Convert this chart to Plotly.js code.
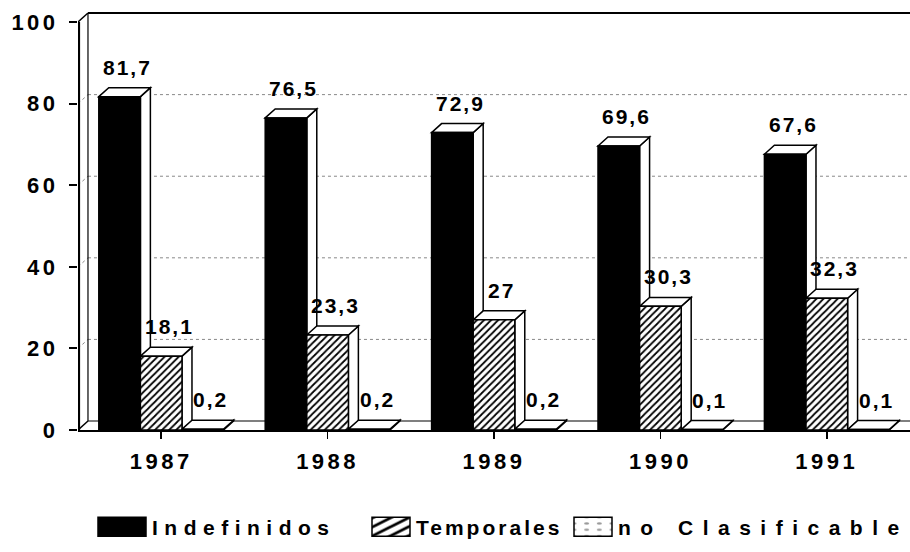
<!DOCTYPE html>
<html>
<head>
<meta charset="utf-8">
<script src="https://cdn.plot.ly/plotly-3.0.1.min.js"></script>
<style>
  html, body { margin: 0; padding: 0; background: #fff; }
  #chart { width: 910px; height: 552px; }
  svg .xtick text, svg .ytick text { letter-spacing: 3.5px; }
  svg .annotation-text { letter-spacing: 2px; }
</style>
</head>
<body>
<div id="chart"></div>
<script>
// ---- data ----
const years = ['1987', '1988', '1989', '1990', '1991'];
const indefinidos = [81.7, 76.5, 72.9, 69.6, 67.6];
const temporales = [18.1, 23.3, 27, 30.3, 32.3];
const noClasificable = [0.2, 0.2, 0.2, 0.1, 0.1];
const seriesNames = ['Indefinidos', 'Temporales', 'no Clasificable'];
const yTicks = [0, 20, 40, 60, 80, 100];

// ---- styling constants ----
const FONT = 'Liberation Sans, Arial, sans-serif';
const W = 0.25;        // bar width in category units (bargap 0.25, 3 bars)
const DX = 0.06;       // 3D depth, x (category units)
const DY = 2.2;        // 3D depth, y (value units)
const X0 = -0.5, X1 = 4.5;
const series = [indefinidos, temporales, noClasificable];

// legend look (pixels): box left, box width, text letter-spacing
const LEG_BOX_LEFT = [98, 372, 574];
const LEG_BOX_W = [48, 38, 38];
const LEG_BOX_H = 19;
const LEG_GAP = 6;
const LEG_LS = [6.5, 3, 9.5];

const fmt = v => String(v).replace('.', ',');

const patterns = [
  { shape: '', fgcolor: '#000', bgcolor: '#000' },
  { shape: '/', fgcolor: '#000', bgcolor: '#fff', size: 5, solidity: 0.35, fillmode: 'replace' },
  { shape: '.', fgcolor: '#999', bgcolor: '#fff', size: 5, solidity: 0.12, fillmode: 'replace' }
];
const colors = ['#000', '#fff', '#fff'];

const data = series.map((vals, s) => ({
  type: 'bar',
  name: seriesNames[s],
  x: years,
  y: vals,
  marker: { color: colors[s], pattern: patterns[s], line: { color: '#000', width: 1.5 } },
  hoverinfo: 'skip'
}));

// ---- decorations: 3D walls, grid ----
const shapes = [];
const line = (x0, y0, x1, y1, w, dash, col) => shapes.push({
  type: 'line', xref: 'x', yref: 'y', x0, y0, x1, y1, layer: 'below',
  line: { color: col || '#000', width: w, dash: dash || 'solid' }
});
yTicks.filter(t => t > 0 && t < 100).forEach(t => {
  line(X0 + DX, t + DY, X1, t + DY, 1, 'dot', '#888');
  line(X0, t, X0 + DX, t + DY, 1, 'dot', '#888');
});
line(X0 + DX, 100 + DY, X1, 100 + DY, 2.2);
line(X0 + 0.006, 0, X0 + 0.006, 100, 2.2);
line(X0 + DX, DY, X0 + DX, 100 + DY, 1.2);
line(X0, 100, X0 + DX, 100 + DY, 1.5);
line(X0, 0, X0 + DX, DY, 1.5);
line(X0 + DX, DY, X1, DY, 1.2);

// ---- 3D faces of each bar (top + side), built from the values ----
years.forEach((yr, k) => {
  series.forEach((vals, s) => {
    const v = vals[k];
    const L = k + (s - 1) * W - W / 2;
    const R = L + W;
    shapes.push({
      type: 'path', xref: 'x', yref: 'y', layer: 'below',
      path: `M${R},0 L${R},${v} L${R + DX},${v + DY} L${R + DX},${DY} Z`,
      fillcolor: '#fff', line: { color: '#000', width: 1.5 }
    });
    shapes.push({
      type: 'path', xref: 'x', yref: 'y', layer: 'below',
      path: `M${L},${v} L${L + DX},${v + DY} L${R + DX},${v + DY} L${R},${v} Z`,
      fillcolor: '#fff', line: { color: '#000', width: 1.5 }
    });
  });
});

// ---- value labels ----
const annotations = [];
years.forEach((yr, k) => {
  series.forEach((vals, s) => {
    const v = vals[k];
    const L = k + (s - 1) * W - W / 2;
    annotations.push({
      xref: 'x', yref: 'y', x: L + W / 2 + DX * 0.8, y: v + DY,
      text: fmt(v), showarrow: false, yanchor: 'bottom', xanchor: 'center', yshift: 7,
      font: { family: FONT, size: 21, color: '#000', weight: 'bold' }
    });
  });
});

const tickFont = { family: FONT, size: 22, color: '#000', weight: 'bold' };

const layout = {
  width: 910, height: 552,
  margin: { l: 78, r: 0, t: 12, b: 122 },
  paper_bgcolor: '#fff', plot_bgcolor: '#fff',
  barmode: 'group', bargap: 0.25, bargroupgap: 0,
  showlegend: true,
  legend: {
    orientation: 'h', x: 0.012, xanchor: 'left', y: -0.232, yanchor: 'middle',
    font: { family: FONT, size: 21, color: '#000', weight: 'bold' },
    bgcolor: 'rgba(0,0,0,0)',
    itemwidth: 50, tracegroupgap: 0, traceorder: 'normal'
  },
  xaxis: {
    type: 'category', range: [X0, X1], showgrid: false, zeroline: false,
    showline: true, linecolor: '#000', linewidth: 2,
    ticks: 'outside', ticklen: 7, tickwidth: 1.5, tickcolor: '#000',
    tickfont: tickFont, ticklabelstandoff: 4, fixedrange: true
  },
  yaxis: {
    range: [0, 102.45], tickvals: yTicks, ticktext: yTicks.map(String),
    showgrid: false, zeroline: false, showline: false,
    ticks: 'outside', ticklen: 8, tickwidth: 2, tickcolor: '#000',
    tickfont: tickFont, ticklabelstandoff: 6, fixedrange: true
  },
  shapes, annotations
};

const parseTranslate = el => {
  const m = /translate\(\s*([-\d.e]+)[ ,]+([-\d.e]+)/.exec(el.getAttribute('transform') || '');
  return m ? [parseFloat(m[1]), parseFloat(m[2])] : [0, 0];
};

Plotly.newPlot('chart', data, layout, { staticPlot: true, displayModeBar: false }).then(gd => {
  const leg = gd.querySelector('.legend');
  if (!leg) return;
  // let the re-spaced legend entries show in full
  leg.removeAttribute('clip-path');
  leg.querySelectorAll('[clip-path]').forEach(e => e.removeAttribute('clip-path'));
  const [lx] = parseTranslate(leg);
  gd.querySelectorAll('.legend .traces').forEach((tr, i) => {
    const txt = tr.querySelector('.legendtext');
    const tx = txt ? parseFloat(txt.getAttribute('x')) || 40 : 40;
    if (txt) txt.style.letterSpacing = LEG_LS[i] + 'px';
    const [, ty] = parseTranslate(tr);
    const textStart = LEG_BOX_LEFT[i] + LEG_BOX_W[i] + LEG_GAP;
    tr.setAttribute('transform', `translate(${textStart - lx - tx},${ty})`);
    tr.querySelectorAll('.legendpoints path').forEach(p => {
      const cx = tx - LEG_GAP - LEG_BOX_W[i] / 2;
      p.setAttribute('transform', `translate(${cx},0) scale(${LEG_BOX_W[i] / 12},${LEG_BOX_H / 12})`);
      p.setAttribute('vector-effect', 'non-scaling-stroke');
    });
  });
});
</script>
</body>
</html>
